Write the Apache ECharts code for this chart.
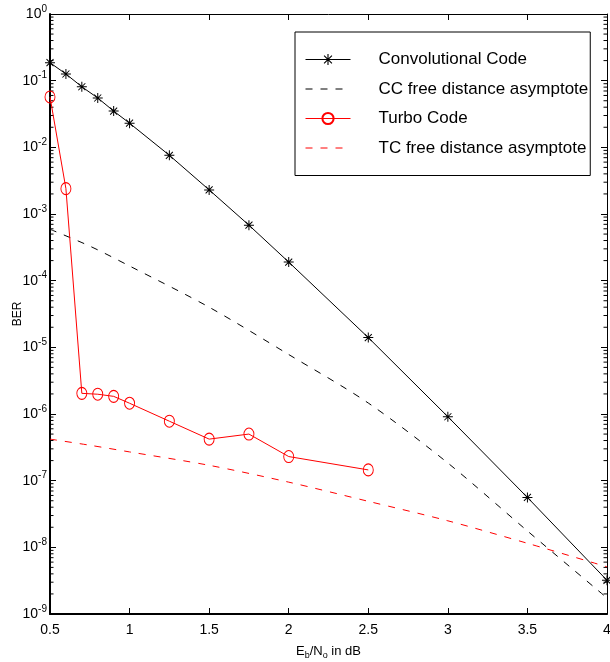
<!DOCTYPE html>
<html>
<head>
<meta charset="utf-8">
<script src="https://cdn.jsdelivr.net/npm/echarts@6/dist/echarts.min.js"></script>
<style>
  html, body { margin: 0; padding: 0; background: #fff; }
  #chart { width: 610px; height: 662px; }
</style>
</head>
<body>
<div id="chart"></div>
<script>
// Eb/No (dB) and BER values
const ebno = [0.5, 0.6, 0.7, 0.8, 0.9, 1, 1.25, 1.5, 1.75, 2, 2.5, 3, 3.5, 4];
const ccBer = [0.186, 0.126, 0.081, 0.055, 0.035, 0.023, 0.0076, 0.0023, 6.8e-4, 1.9e-4, 1.4e-5, 9.1e-7, 5.6e-8, 3.2e-9];
const tcEbno = [0.5, 0.6, 0.7, 0.8, 0.9, 1, 1.25, 1.5, 1.75, 2, 2.5];
const tcBer = [0.057, 2.4e-3, 2.04e-6, 1.98e-6, 1.84e-6, 1.45e-6, 7.8e-7, 4.2e-7, 5.0e-7, 2.3e-7, 1.45e-7];
const asymEbno = [0.5, 0.75, 1, 1.5, 2, 2.5, 3, 3.5, 4];
const ccAsym = [5.9e-4, 3.3e-4, 1.66e-4, 4.0e-5, 7.8e-6, 1.46e-6, 1.84e-7, 1.76e-8, 1.74e-9];
const tcAsym = [4.2e-7, 3.4e-7, 2.7e-7, 1.7e-7, 9.5e-8, 4.9e-8, 2.5e-8, 1.15e-8, 5.1e-9];
const seriesNames = ['Convolutional Code', 'CC free distance asymptote', 'Turbo Code', 'TC free distance asymptote'];

const FONT = '"Liberation Sans", Arial, sans-serif';
// asterisk marker (8 arms)
const STAR = 'path://M-1,-10L1,-10L1,10L-1,10Z M-10,-1L10,-1L10,1L-10,1Z M-6.3,-7.7L7.7,6.3L6.3,7.7L-7.7,-6.3Z M7.7,-6.3L-6.3,7.7L-7.7,6.3L6.3,-7.7Z';

function pairs(xs, ys) {
  return xs.map((x, i) => [x, ys[i]]);
}

// log minor ticks 2..9 x 10^e (axis decoration only)
let minorVals = [];
for (let e = -9; e < 0; e++) {
  for (let k = 2; k <= 9; k++) minorVals.push([k * Math.pow(10, e)]);
}

const chart = echarts.init(document.getElementById('chart'));

const supRich = {
  b: { fontFamily: FONT, fontSize: 14, color: '#000' },
  s: { fontFamily: FONT, fontSize: 10, color: '#000', padding: [0, 0, 10, 0] }
};

var option = {
  backgroundColor: '#fff',
  animation: false,
  textStyle: { fontFamily: FONT },
  grid: { left: 50, right: 3, top: 14, bottom: 48, containLabel: false, outerBoundsMode: 'none' },
  legend: {
    data: [
      { name: seriesNames[0] },
      { name: seriesNames[1], itemStyle: { opacity: 0 } },
      { name: seriesNames[2] },
      { name: seriesNames[3], itemStyle: { opacity: 0 } }
    ],
    orient: 'vertical',
    left: 295,
    top: 32,
    padding: [19, 2, 19, 10],
    itemWidth: 45,
    itemHeight: 14,
    itemGap: 12.5,
    borderColor: '#000',
    borderWidth: 1,
    backgroundColor: '#fff',
    lineStyle: { width: 1 },
    textStyle: { fontFamily: FONT, fontSize: 17, color: '#000', padding: [0, 0, 0, 23] }
  },
  xAxis: [
    {
      type: 'value',
      min: 0.5,
      max: 4,
      interval: 0.5,
      name: '{t|E}{sub|b}{t|/N}{sub|o}{t| in dB}',
      nameLocation: 'middle',
      nameGap: 28,
      nameMoveOverlap: false,
      nameTextStyle: {
        rich: {
          t: { fontFamily: FONT, fontSize: 13, color: '#000' },
          sub: { fontFamily: FONT, fontSize: 9, color: '#000', padding: [9, 0, 0, 0] }
        }
      },
      axisLine: { lineStyle: { color: '#000', width: 2 } },
      axisTick: { inside: true, length: 6, lineStyle: { color: '#000' } },
      axisLabel: {
        fontFamily: FONT, fontSize: 14, color: '#000', margin: 9,
        formatter: v => String(v)
      },
      splitLine: { show: false }
    },
    {
      type: 'value',
      position: 'top',
      min: 0.5,
      max: 4,
      interval: 0.5,
      axisLine: { show: true, lineStyle: { color: '#000', width: 1 } },
      axisTick: { inside: true, length: 6, lineStyle: { color: '#000' } },
      axisLabel: { show: false },
      splitLine: { show: false }
    }
  ],
  yAxis: [
    {
      type: 'log',
      logBase: 10,
      min: 1e-9,
      max: 1,
      splitNumber: 9,
      name: 'BER',
      nameLocation: 'middle',
      nameGap: 26,
      nameMoveOverlap: false,
      nameTextStyle: { fontFamily: FONT, fontSize: 12, color: '#000' },
      axisLine: { show: true, lineStyle: { color: '#000', width: 2 } },
      axisTick: { inside: true, length: 6, lineStyle: { color: '#000' } },
      axisLabel: {
        margin: 3,
        formatter: v => '{b|10}{s|' + Math.round(Math.log10(v)) + '}',
        rich: supRich
      },
      splitLine: { show: false }
    },
    {
      type: 'log',
      logBase: 10,
      position: 'right',
      min: 1e-9,
      max: 1,
      splitNumber: 9,
      axisLine: { show: true, lineStyle: { color: '#000', width: 1 } },
      axisTick: { inside: true, length: 6, lineStyle: { color: '#000' } },
      axisLabel: { show: false },
      splitLine: { show: false }
    }
  ],
  series: [
    {
      type: 'custom',
      name: 'minorTicks',
      silent: true,
      data: minorVals,
      encode: { y: 0 },
      renderItem: function (params, api) {
        const l = api.coord([0.5, api.value(0)]);
        const r = api.coord([4, api.value(0)]);
        return {
          type: 'group',
          children: [
            { type: 'line', shape: { x1: l[0], y1: l[1], x2: l[0] + 3.5, y2: l[1] }, style: { stroke: '#000', lineWidth: 1 } },
            { type: 'line', shape: { x1: r[0], y1: r[1], x2: r[0] - 3.5, y2: r[1] }, style: { stroke: '#000', lineWidth: 1 } }
          ]
        };
      }
    },
    {
      name: 'CC free distance asymptote',
      type: 'line',
      data: pairs(asymEbno, ccAsym),
      smooth: 0.3,
      symbol: 'none',
      lineStyle: { color: '#000', width: 1, type: [7, 8] },
      itemStyle: { color: '#000' }
    },
    {
      name: 'TC free distance asymptote',
      type: 'line',
      data: pairs(asymEbno, tcAsym),
      smooth: 0.3,
      symbol: 'none',
      lineStyle: { color: '#ff0000', width: 1, type: [7, 8] },
      itemStyle: { color: '#ff0000' }
    },
    {
      name: 'Turbo Code',
      type: 'line',
      data: pairs(tcEbno, tcBer),
      symbol: 'circle',
      symbolSize: [10, 12],
      lineStyle: { color: '#ff0000', width: 1 },
      itemStyle: { color: 'rgba(0,0,0,0)', borderColor: '#ff0000', borderWidth: 1 }
    },
    {
      name: 'Convolutional Code',
      type: 'line',
      data: pairs(ebno, ccBer),
      symbol: STAR,
      symbolSize: 10,
      lineStyle: { color: '#000', width: 1 },
      itemStyle: { color: '#000' }
    }
  ]
};

chart.setOption(option);
</script>
</body>
</html>
